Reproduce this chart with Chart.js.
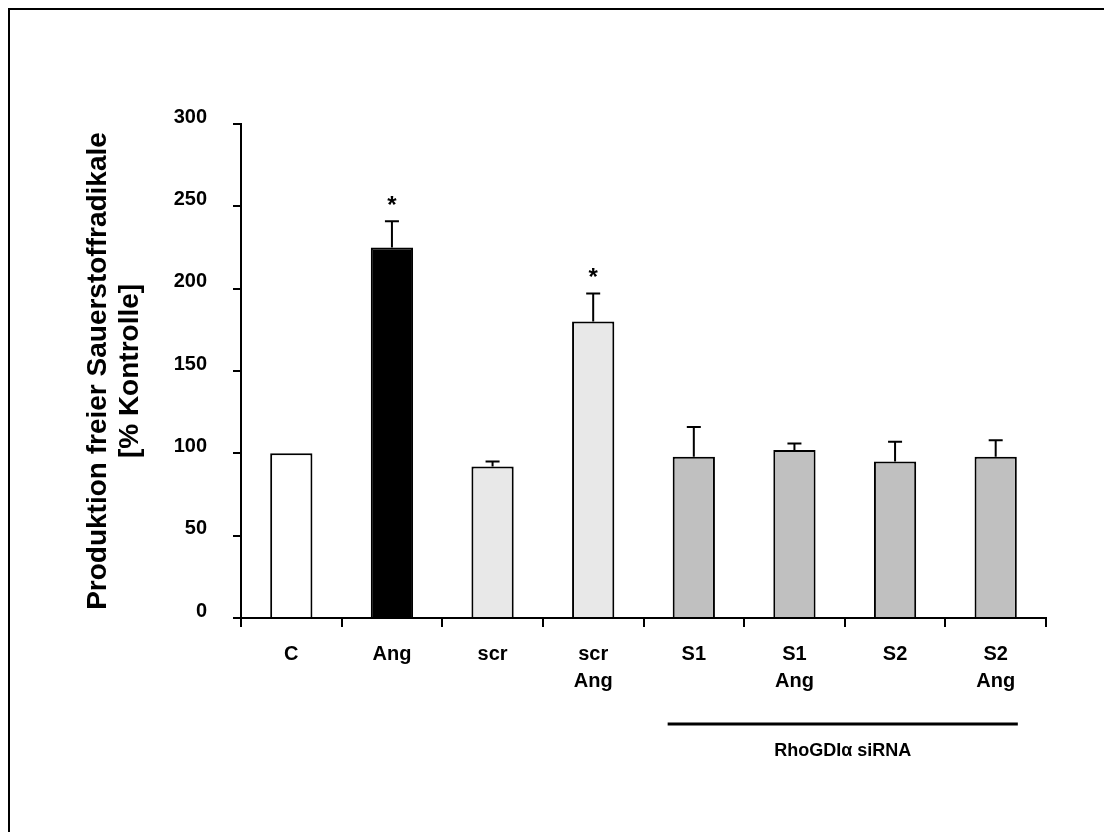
<!DOCTYPE html>
<html>
<head>
<meta charset="utf-8">
<script src="https://cdn.jsdelivr.net/npm/chart.js@4.4.0/dist/chart.umd.min.js"></script>
<style>
  body { margin: 0; background: #fff; }
  #wrap { width: 1104px; height: 832px; }
</style>
</head>
<body>
<div id="wrap"><canvas id="roschart" width="1104" height="832"></canvas></div>
<script>
// data
var categories = [['C'], ['Ang'], ['scr'], ['scr', 'Ang'], ['S1'], ['S1', 'Ang'], ['S2'], ['S2', 'Ang']];
var means = [100, 225, 92, 180, 98, 102, 95, 98];
var errors = [0, 16, 3, 17, 18, 4, 12, 10];
var significant = [false, true, false, true, false, false, false, false];
var barColors = ['#ffffff', '#000000', '#e8e8e8', '#e8e8e8', '#c0c0c0', '#c0c0c0', '#c0c0c0', '#c0c0c0'];
var yTicks = [0, 50, 100, 150, 200, 250, 300];
var groupLabel = 'RhoGDIα siRNA';
var groupRange = [4, 7];

var FONT = "'Liberation Sans', Arial, sans-serif";

// outer frame (only top and left edge are visible in the original)
var framePlugin = {
    id: 'frame',
    beforeDraw: function(chart) {
        var ctx = chart.ctx;
        ctx.save();
        ctx.fillStyle = '#fff';
        ctx.fillRect(0, 0, chart.width, chart.height);
        ctx.fillStyle = '#000';
        ctx.fillRect(8, 8, chart.width, 2);
        ctx.fillRect(8, 8, 2, chart.height);
        ctx.restore();
    }
};

// error bars (upper only) + significance stars
var errorBarPlugin = {
    id: 'errorBars',
    afterDatasetsDraw: function(chart) {
        var ctx = chart.ctx;
        var meta = chart.getDatasetMeta(0);
        var y = chart.scales.y;
        ctx.save();
        ctx.strokeStyle = '#000';
        ctx.lineWidth = 2;
        meta.data.forEach(function(bar, i) {
            var top = y.getPixelForValue(means[i] + errors[i]);
            if (errors[i] > 0) {
                ctx.beginPath();
                ctx.moveTo(bar.x, bar.y);
                ctx.lineTo(bar.x, top);
                ctx.moveTo(bar.x - 7, top);
                ctx.lineTo(bar.x + 7, top);
                ctx.stroke();
            }
            if (significant[i]) {
                ctx.fillStyle = '#000';
                ctx.font = 'bold 24px ' + FONT;
                ctx.textAlign = 'center';
                ctx.textBaseline = 'middle';
                ctx.fillText('*', bar.x, top - 15);
            }
        });
        ctx.restore();
    }
};

// bracket line under the siRNA groups
var groupPlugin = {
    id: 'group',
    afterDraw: function(chart) {
        var ctx = chart.ctx;
        var x = chart.scales.x;
        var w = x.getPixelForValue(1) - x.getPixelForValue(0);
        var x1 = x.getPixelForValue(groupRange[0]) - 0.26 * w;
        var x2 = x.getPixelForValue(groupRange[1]) + 0.22 * w;
        var yLine = chart.chartArea.bottom + 106;
        ctx.save();
        ctx.fillStyle = '#000';
        ctx.fillRect(x1, yLine - 1.5, x2 - x1, 3);
        ctx.font = 'bold 18px ' + FONT;
        ctx.textAlign = 'center';
        ctx.textBaseline = 'middle';
        ctx.fillText(groupLabel, (x1 + x2) / 2, yLine + 27);
        ctx.restore();
    }
};

new Chart(document.getElementById('roschart'), {
    type: 'bar',
    data: {
        labels: categories,
        datasets: [{
            data: means,
            backgroundColor: barColors,
            borderColor: '#000',
            borderWidth: 2,
            barPercentage: 0.42,
            categoryPercentage: 1
        }]
    },
    options: {
        responsive: false,
        animation: false,
        layout: { padding: { left: 0, top: 124, right: 58, bottom: 0 } },
        plugins: {
            legend: { display: false },
            tooltip: { enabled: false }
        },
        scales: {
            x: {
                offset: true,
                afterFit: function(scale) { scale.height = 214; },
                grid: {
                    offset: true,
                    drawOnChartArea: false,
                    color: '#000',
                    tickLength: 9,
                    lineWidth: 2
                },
                border: { color: '#000', width: 2 },
                ticks: {
                    color: '#000',
                    padding: 14,
                    maxRotation: 0,
                    autoSkip: false,
                    font: { family: FONT, size: 20, weight: 'bold', lineHeight: 1.35 }
                }
            },
            y: {
                min: 0,
                max: 300,
                afterFit: function(scale) { scale.width = 241; },
                afterBuildTicks: function(scale) {
                    scale.ticks = yTicks.map(function(v) { return { value: v }; });
                },
                grid: {
                    drawOnChartArea: false,
                    color: '#000',
                    tickLength: 8,
                    lineWidth: 2
                },
                border: { color: '#000', width: 2 },
                ticks: {
                    color: '#000',
                    padding: 26,
                    labelOffset: -7,
                    font: { family: FONT, size: 20, weight: 'bold' }
                },
                title: {
                    display: true,
                    text: ['Produktion freier Sauerstoffradikale', '[% Kontrolle]'],
                    color: '#000',
                    padding: { top: 83, bottom: 0 },
                    font: { family: FONT, size: 28, weight: 'bold', lineHeight: 1.12 }
                }
            }
        }
    },
    plugins: [framePlugin, errorBarPlugin, groupPlugin]
});
</script>
</body>
</html>
